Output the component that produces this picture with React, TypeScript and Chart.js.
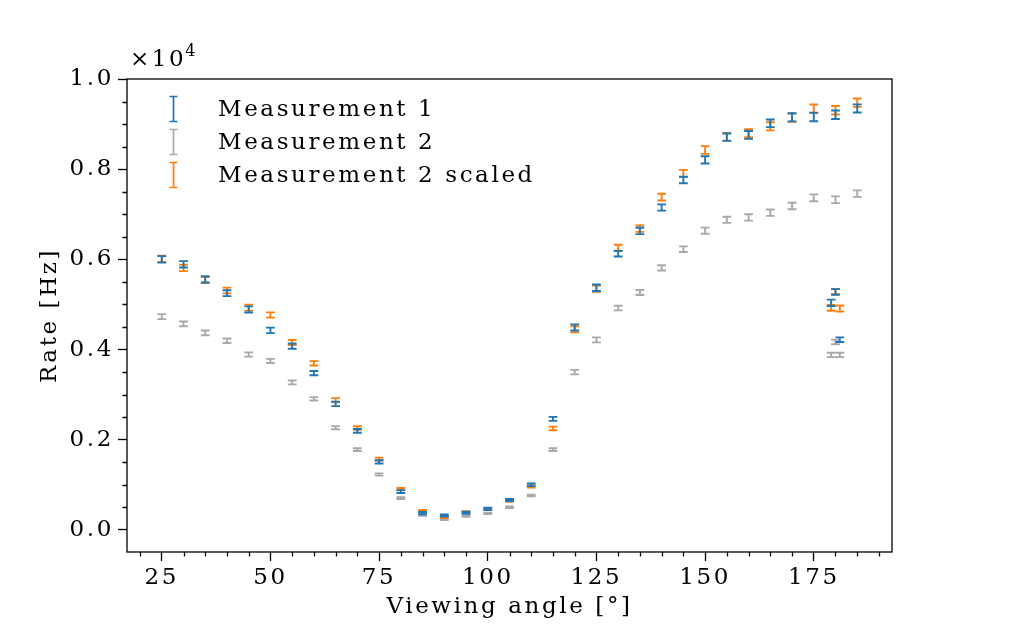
import { useEffect, useRef } from 'react';
import { Chart, registerables } from 'chart.js';

Chart.register(...registerables);

// Viewing angles [deg]
const angles = [
  25, 30, 35, 40, 45, 50, 55, 60, 65, 70, 75, 80, 85, 90, 95, 100, 105,
  110, 115, 120, 125, 130, 135, 140, 145, 150, 155, 160, 165, 170, 175, 180, 185,
];

// Measurement 1 (rate in Hz, and its error)
const m1Rate = [
  6000, 5890, 5556, 5250, 4890, 4425, 4077, 3477, 2796, 2196, 1510, 851, 373, 318, 380, 466, 662,
  1000, 2462, 4490, 5370, 6125, 6630, 7150, 7760, 8207, 8710, 8760, 9018, 9150, 9158, 9207, 9347,
];
const m1Err = [
  72, 72, 70, 66, 68, 60, 58, 48, 50, 42, 36, 32, 25, 22, 22, 24, 22,
  30, 45, 68, 72, 62, 70, 70, 72, 81, 82, 88, 85, 90, 96, 94, 90,
];

// Measurement 2
const m2Rate = [
  4730, 4570, 4370, 4195, 3890, 3747, 3270, 2907, 2266, 1780, 1229, 707, 329, 233, 307, 366, 503,
  762, 1780, 3500, 4214, 4920, 5266, 5810, 6225, 6636, 6877, 6929, 7036, 7184, 7366, 7322, 7458,
];
const m2Err = [
  55, 52, 52, 50, 48, 45, 43, 38, 35, 30, 25, 20, 15, 14, 15, 15, 16,
  18, 30, 50, 55, 52, 55, 58, 62, 68, 68, 70, 71, 72, 76, 74, 72,
];

// Measurement 2 scaled
const m2sRate = [
  6010, 5810, 5540, 5310, 4930, 4766, 4155, 3695, 2877, 2258, 1570, 903, 422, 280, 396, 466, 645,
  962, 2251, 4450, 5350, 6258, 6680, 7380, 7907, 8425, 8720, 8796, 8950, 9144, 9340, 9307, 9477,
];
const m2sErr = [
  70, 70, 68, 64, 66, 58, 55, 48, 45, 40, 32, 26, 20, 18, 20, 20, 22,
  25, 40, 65, 70, 66, 70, 75, 78, 86, 86, 88, 90, 92, 96, 94, 92,
];

// extra runs around 180 deg
const extraAngles = [179, 180, 181];
const m1ExtraRate = [5036, 5277, 4218];
const m1ExtraErr = [70, 62, 52];
const m2ExtraRate = [3880, 4166, 3880];
const m2ExtraErr = [48, 50, 48];
const m2sExtraRate = [4925, 5285, 4910];
const m2sExtraErr = [66, 58, 66];

const xMajorTicks = [25, 50, 75, 100, 125, 150, 175];
const yMajorTicks = [0, 2000, 4000, 6000, 8000, 10000];

const seriesLabels = ['Measurement 1', 'Measurement 2', 'Measurement 2 scaled'];
const seriesColors = ['#1f77b4', '#a9a9a9', '#ff7f0e'];

const FONT = '"DejaVu Serif", serif';
const FONT_SIZE = 23;
const SPACING = '2.6px';
const CAP = 4.4;

function points(xs: number[], ys: number[], errs: number[]) {
  return xs.map((x, i) => ({ x, y: ys[i], err: errs[i] }));
}

const spacingPlugin = {
  id: 'spacing',
  beforeUpdate(chart: any) {
    chart.ctx.letterSpacing = SPACING;
  },
  beforeDraw(chart: any) {
    chart.ctx.letterSpacing = SPACING;
  },
};

const errorBarPlugin = {
  id: 'errorBars',
  afterDatasetsDraw(chart: any) {
    const { ctx, chartArea, scales } = chart;
    const xs = scales.x;
    const ys = scales.y;
    ctx.save();
    ctx.beginPath();
    ctx.rect(chartArea.left, chartArea.top, chartArea.width, chartArea.height);
    ctx.clip();
    ctx.lineWidth = 1.9;
    // higher order first, so Measurement 1 ends on top
    const sets = [...chart.data.datasets].sort((a: any, b: any) => b.order - a.order);
    sets.forEach((ds: any) => {
      ctx.strokeStyle = ds.borderColor;
      ds.data.forEach((p: any) => {
        const px = xs.getPixelForValue(p.x);
        const lo = ys.getPixelForValue(p.y - p.err);
        const hi = ys.getPixelForValue(p.y + p.err);
        ctx.beginPath();
        ctx.moveTo(px, lo);
        ctx.lineTo(px, hi);
        ctx.moveTo(px - CAP, lo);
        ctx.lineTo(px + CAP, lo);
        ctx.moveTo(px - CAP, hi);
        ctx.lineTo(px + CAP, hi);
        ctx.stroke();
      });
    });
    ctx.restore();
  },
};

// frame, minor ticks, legend and the x10^4 offset text
const decorPlugin = {
  id: 'decor',
  afterDraw(chart: any) {
    const { ctx, chartArea, scales } = chart;
    const xs = scales.x;
    const ys = scales.y;
    ctx.save();
    ctx.letterSpacing = SPACING;
    ctx.strokeStyle = '#000';
    ctx.lineWidth = 1.3;
    ctx.strokeRect(chartArea.left, chartArea.top, chartArea.width, chartArea.height);

    // minor ticks
    ctx.beginPath();
    for (let v = 20; v <= xs.max; v += 5) {
      if (v % 25 === 0) continue;
      const px = Math.round(xs.getPixelForValue(v)) + 0.5;
      ctx.moveTo(px, chartArea.bottom);
      ctx.lineTo(px, chartArea.bottom + 4.5);
    }
    for (let v = 500; v < ys.max; v += 500) {
      if (v % 2000 === 0) continue;
      const py = Math.round(ys.getPixelForValue(v)) + 0.5;
      ctx.moveTo(chartArea.left, py);
      ctx.lineTo(chartArea.left - 4.5, py);
    }
    ctx.stroke();

    // legend
    ctx.font = `${FONT_SIZE}px ${FONT}`;
    ctx.textBaseline = 'middle';
    ctx.textAlign = 'left';
    seriesLabels.forEach((label, i) => {
      const cx = chartArea.left + 46.5;
      const cy = chartArea.top + 30 + i * 33;
      ctx.strokeStyle = seriesColors[i];
      ctx.lineWidth = 1.7;
      ctx.beginPath();
      ctx.moveTo(cx, cy - 12.5);
      ctx.lineTo(cx, cy + 12.5);
      ctx.moveTo(cx - 4, cy - 12.5);
      ctx.lineTo(cx + 4, cy - 12.5);
      ctx.moveTo(cx - 4, cy + 12.5);
      ctx.lineTo(cx + 4, cy + 12.5);
      ctx.stroke();
      ctx.fillStyle = '#000';
      ctx.fillText(label, chartArea.left + 91, cy + 1);
    });

    // offset text
    ctx.textBaseline = 'alphabetic';
    ctx.font = `${FONT_SIZE}px ${FONT}`;
    ctx.fillText('\u00d710', chartArea.left + 3, chartArea.top - 13);
    const w = ctx.measureText('\u00d710').width;
    ctx.font = `16px ${FONT}`;
    ctx.fillText('4', chartArea.left + 3 + w - 1, chartArea.top - 23);
    ctx.restore();
  },
};

export default function App() {
  const canvasRef = useRef<HTMLCanvasElement>(null);

  useEffect(() => {
    if (!canvasRef.current) return;
    const tickFont = { family: FONT, size: FONT_SIZE };

    const chart = new Chart(canvasRef.current, {
      type: 'scatter',
      data: {
        datasets: [
          {
            label: seriesLabels[0],
            data: [...points(angles, m1Rate, m1Err), ...points(extraAngles, m1ExtraRate, m1ExtraErr)],
            borderColor: seriesColors[0],
            backgroundColor: seriesColors[0],
            pointRadius: 0,
            order: 0,
          },
          {
            label: seriesLabels[1],
            data: [...points(angles, m2Rate, m2Err), ...points(extraAngles, m2ExtraRate, m2ExtraErr)],
            borderColor: seriesColors[1],
            backgroundColor: seriesColors[1],
            pointRadius: 0,
            order: 2,
          },
          {
            label: seriesLabels[2],
            data: [...points(angles, m2sRate, m2sErr), ...points(extraAngles, m2sExtraRate, m2sExtraErr)],
            borderColor: seriesColors[2],
            backgroundColor: seriesColors[2],
            pointRadius: 0,
            order: 1,
          },
        ],
      },
      options: {
        animation: false,
        responsive: true,
        maintainAspectRatio: false,
        events: [],
        layout: { padding: { left: 0, right: 129, top: 79, bottom: 0 } },
        plugins: {
          legend: { display: false },
          tooltip: { enabled: false },
        },
        scales: {
          x: {
            type: 'linear',
            min: 17,
            max: 193,
            afterBuildTicks: (scale: any) => {
              scale.ticks = xMajorTicks.map((value) => ({ value }));
            },
            afterFit: (scale: any) => {
              scale.height = 79;
            },
            ticks: { color: '#000', font: tickFont, padding: 3, maxRotation: 0, autoSkip: false },
            grid: {
              display: true,
              drawOnChartArea: false,
              drawTicks: true,
              tickLength: 9,
              tickWidth: 1.3,
              tickColor: '#000',
            },
            border: { display: false },
            title: {
              display: true,
              text: 'Viewing angle [°]',
              color: '#000',
              font: tickFont,
              padding: { top: 0, bottom: 10 },
            },
          },
          y: {
            type: 'linear',
            min: -490,
            max: 10000,
            afterBuildTicks: (scale: any) => {
              scale.ticks = yMajorTicks.map((value) => ({ value }));
            },
            afterFit: (scale: any) => {
              scale.width = 127;
            },
            ticks: {
              color: '#000',
              font: tickFont,
              padding: 4,
              callback: (value: any) => (Number(value) / 10000).toFixed(1),
            },
            grid: {
              display: true,
              drawOnChartArea: false,
              drawTicks: true,
              tickLength: 9,
              tickWidth: 1.3,
              tickColor: '#000',
            },
            border: { display: false },
            title: {
              display: true,
              text: 'Rate [Hz]',
              color: '#000',
              font: tickFont,
              padding: { top: 36, bottom: 0 },
            },
          },
        },
      },
      plugins: [spacingPlugin, errorBarPlugin, decorPlugin],
    });

    return () => {
      chart.destroy();
    };
  }, []);

  return (
    <div style={{ position: 'fixed', left: 0, top: 0, width: 1021, height: 631, background: '#fff' }}>
      <canvas ref={canvasRef} />
    </div>
  );
}
